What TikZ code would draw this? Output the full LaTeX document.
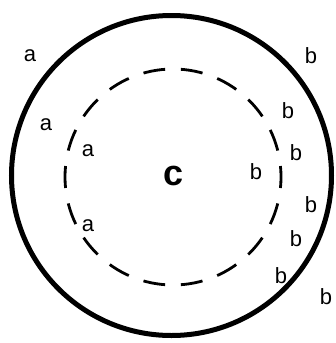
\documentclass[tikz,border=0pt]{standalone}
\usepackage{fontspec}
\setmainfont{Liberation Sans}
\usepackage{tikz}
\usetikzlibrary{positioning}
\definecolor{mydark}{RGB}{0,0,0}
\tikzset{
  outerring/.style={line width=5pt, color=mydark},
  innerring/.style={line width=2.8pt, color=mydark,
    dash pattern=on 22pt off 15.7pt, dash phase=11pt},
  lbl/.style={font=\fontsize{22}{22}\selectfont, inner sep=0pt, color=mydark},
  core/.style={font=\fontsize{36}{36}\selectfont\bfseries, inner sep=0pt, color=mydark}
}

\begin{document}
\begin{tikzpicture}[x=1pt, y=-1pt]
  \useasboundingbox (0,0) rectangle (336,343);
  \coordinate (outerc) at (171.5,175.5);
  \coordinate (innerc) at (173,177);
  \draw[outerring] (outerc) circle (160pt);
  \draw[innerring] (innerc) circle (108pt);
  \node[core] (c) at (174,176) {c};
  % a side
  \node[lbl] (a1) at (30,56) {a};
  \node[lbl] (a2) at (46,125) {a};
  \node[lbl] (a3) at (88,151) {a};
  \node[lbl] (a4) at (88,226) {a};
  % b side
  \node[lbl] (b1) at (256,172) {b};
  \node[lbl] (b2) at (311,56) {b};
  \node[lbl] (b3) at (288,111) {b};
  \node[lbl] (b4) at (296,153) {b};
  \node[lbl] (b5) at (311,205) {b};
  \node[lbl] (b6) at (296,239) {b};
  \node[lbl] (b7) at (281,276) {b};
  \node[lbl] (b8) at (326,297) {b};
\end{tikzpicture}
\end{document}
